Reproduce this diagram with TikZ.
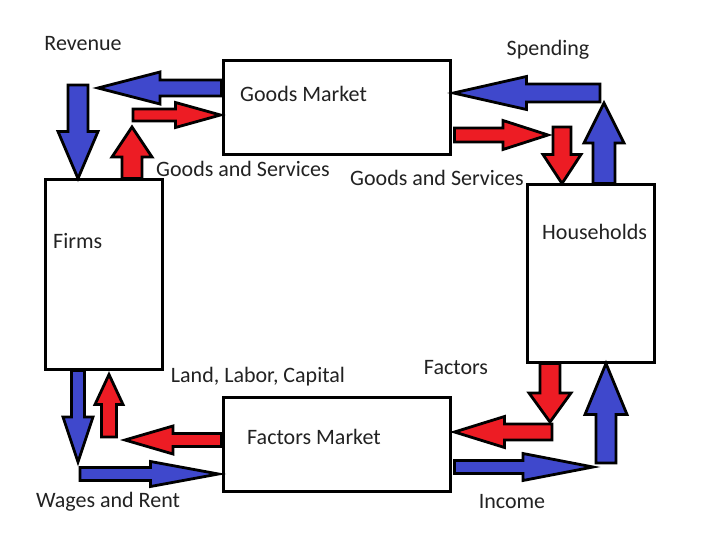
\documentclass[tikz,border=0pt]{standalone}
\usepackage{tikz}
\usetikzlibrary{positioning, calc}
\usepackage{fontspec}
\setmainfont{Carlito}
\usepackage{xcolor}
\definecolor{cfblue}{HTML}{3F48CC}
\definecolor{cfred}{HTML}{ED1C24}
\definecolor{cftext}{HTML}{222222}

% block arrow: colour, from, to, shaft half width, head half width, head length
\newcommand{\flowarrow}[6]{%
  \path ($(#3)!#6!(#2)$) coordinate (fa-base);
  \draw[flow, fill=#1] ($(#2)!#4!90:(#3)$) -- ($(fa-base)!#4!90:(#3)$)
    -- ($(fa-base)!#5!90:(#3)$) -- (#3) -- ($(fa-base)!#5!-90:(#3)$)
    -- ($(fa-base)!#4!-90:(#3)$) -- ($(#2)!#4!-90:(#3)$) -- cycle;}

\begin{document}
\begin{tikzpicture}[x=1pt, y=-1pt,
    box/.style={draw=black, fill=white, line width=3pt, inner sep=0pt},
    lbl/.style={font=\fontsize{22}{26}\selectfont, text=cftext, inner sep=0pt},
    flow/.style={draw=black, line width=2.8pt, line join=miter}]
  \useasboundingbox[fill=white] (0,0) rectangle (720,540);

  % markets and sectors
  \node[box, minimum width=227pt, minimum height=94pt] (gm) at (336.5,108) {};
  \node[box, minimum width=227pt, minimum height=94pt] (fm) at (336.5,444) {};
  \node[box, minimum width=117pt, minimum height=189pt] (firms) at (103.5,274.5) {};
  \node[box, minimum width=127pt, minimum height=177pt] (hh) at (590.5,273.5) {};

  \node[lbl, anchor=west] (gm-txt) at (240,94) {Goods Market};
  \node[lbl, anchor=west] (fm-txt) at (247,437) {Factors Market};
  \node[lbl, anchor=west] (firms-txt) at (53,241) {Firms};
  \node[lbl, anchor=west] (hh-txt) at (542,232) {Households};

  % free ends of the flows
  \coordinate (rev-tip) at (98,88);
  \coordinate (rev-top) at (78,85);
  \coordinate (gs-low) at (132,127);
  \coordinate (gs-start) at (133,115);
  \coordinate (spd-start) at (600,93);
  \coordinate (spd-tip) at (604,103);
  \coordinate (gsr-tip) at (548,135);
  \coordinate (gsr-top) at (562,127);
  \coordinate (wr-tip) at (78,462);
  \coordinate (wr-start) at (80,474);
  \coordinate (llc-tip) at (125,440);
  \coordinate (llc-start) at (109,437);
  \coordinate (fac-tip) at (550,422);
  \coordinate (fac-start) at (552,432);
  \coordinate (inc-tip) at (593,467);
  \coordinate (inc-start) at (606,463);

  % goods side
  \flowarrow{cfblue}{$(gm.west)+(0,-20)$}{rev-tip}{8pt}{16pt}{62pt}
  \flowarrow{cfblue}{rev-top}{$(firms.north)+(-25.5,0)$}{10pt}{20pt}{47pt}
  \flowarrow{cfred}{$(firms.north)+(28.5,0)$}{gs-low}{10pt}{20pt}{30pt}
  \flowarrow{cfred}{gs-start}{$(gm.west)+(-1,7)$}{6pt}{12.5pt}{45pt}
  \flowarrow{cfblue}{spd-start}{$(gm.east)+(2,-15)$}{9pt}{16.5pt}{73pt}
  \flowarrow{cfblue}{$(hh.north)+(13.5,0)$}{spd-tip}{11pt}{20pt}{40pt}
  \flowarrow{cfred}{$(gm.east)+(3,27)$}{gsr-tip}{7pt}{14.5pt}{45pt}
  \flowarrow{cfred}{gsr-top}{$(hh.north)+(-28.5,0)$}{9pt}{19pt}{29pt}

  % factors side
  \flowarrow{cfblue}{$(firms.south)+(-25.5,0)$}{wr-tip}{6.5pt}{15pt}{45pt}
  \flowarrow{cfblue}{wr-start}{$(fm.west)+(-3,30)$}{6.5pt}{12.5pt}{68pt}
  \flowarrow{cfred}{$(fm.west)+(0,-4)$}{llc-tip}{6.5pt}{14pt}{48pt}
  \flowarrow{cfred}{llc-start}{$(firms.south)+(5.5,4)$}{7.5pt}{14pt}{30pt}
  \flowarrow{cfred}{$(hh.south)+(-40.5,0)$}{fac-tip}{10pt}{21pt}{29pt}
  \flowarrow{cfred}{fac-start}{$(fm.east)+(3,-12)$}{8pt}{15.5pt}{50pt}
  \flowarrow{cfblue}{$(fm.east)+(3,23)$}{inc-tip}{6.5pt}{13.5pt}{70pt}
  \flowarrow{cfblue}{inc-start}{$(hh.south)+(15.5,0)$}{10pt}{21pt}{51pt}

  % flow labels
  \node[lbl] (revenue) at (83,44) {Revenue};
  \node[lbl] (spending) at (548,50) {Spending};
  \node[lbl] (gs-left) at (243,169) {Goods and Services};
  \node[lbl] (gs-right) at (437,178) {Goods and Services};
  \node[lbl] (llc) at (258,377) {Land, Labor, Capital};
  \node[lbl] (factors) at (456,368) {Factors};
  \node[lbl] (wages) at (108,502) {Wages and Rent};
  \node[lbl] (income) at (512,502) {Income};
\end{tikzpicture}
\end{document}
